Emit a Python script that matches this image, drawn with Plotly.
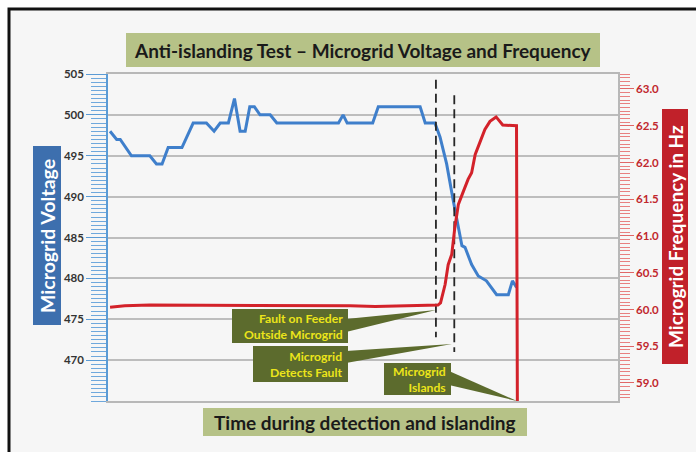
import plotly.graph_objects as go

# ---------------- data ----------------
blue_t = [0.4, 1.7, 2.4, 4.6, 8.2, 9.5, 10.6, 11.8, 14.5, 16.7, 19.3, 20.8, 22.0, 23.6,
          24.8, 25.9, 26.9, 27.8, 28.7, 29.8, 31.8, 33.1, 45.2, 46.1, 46.9, 51.9, 53.0,
          61.2, 62.2, 64.1, 65.1, 66.4, 67.7, 69.0, 69.4, 70.0, 71.3, 72.6, 73.6, 74.2,
          76.2, 78.5, 79.3, 80.1]
blue_v = [498, 497, 497, 495, 495, 494, 494, 496, 496, 499, 499, 498, 499, 499,
          502, 498, 498, 501, 501, 500, 500, 499, 499, 500, 499, 499, 501,
          501, 499, 499, 497.3, 494, 489.5, 485.4, 484, 483.8, 481.7, 480.3, 479.9, 479.7,
          478, 478, 479.7, 478.9]

red_t = [0.4, 3.3, 8.2, 13.1, 18.0, 22.9, 27.8, 32.7, 37.6, 42.5, 47.5, 52.4, 57.3,
         62.2, 64.7, 65.2, 66.1, 66.7, 67.4, 68.0, 68.7, 69.7, 70.6, 71.3, 72.0, 72.9,
         73.9, 74.9, 76.1, 77.4, 79.1, 80.1, 80.3]
red_f = [60.03, 60.05, 60.06, 60.06, 60.05, 60.06, 60.05, 60.06, 60.05, 60.05, 60.05,
         60.04, 60.05, 60.05, 60.06, 60.09, 60.34, 60.61, 60.75, 61.11, 61.43, 61.61,
         61.77, 61.86, 62.11, 62.27, 62.45, 62.56, 62.62, 62.51, 62.51, 62.50, 58.0]

event_t = [64.3, 67.9]
event_top = [504.3, 502.4]
event_bottom = [472.8, 471.0]

volt_ticks = [470, 475, 480, 485, 490, 495, 500, 505]
freq_ticks = [59.0, 59.5, 60.0, 60.5, 61.0, 61.5, 62.0, 62.5, 63.0]

title_text = "Anti-islanding Test – Microgrid Voltage and Frequency"
x_title = "Time during detection and islanding"
y1_title = "Microgrid Voltage"
y2_title = "Microgrid Frequency in Hz"
callouts = ["Fault on Feeder<br>Outside Microgrid", "Microgrid<br>Detects Fault", "Microgrid<br>Islands"]

# ---------------- layout helpers ----------------
W, H = 696, 452
L, R, T, B = 108, 78, 74, 51
PW, PH = W - L - R, H - T - B


def px(x):
    return (x - L) / PW


def py(y):
    return (H - B - y) / PH


FONT = "Lato, 'Open Sans', sans-serif"
BLUE = "#3f7fcb"
RED = "#d3222a"
OLIVE = "#5c6b2d"
KHAKI = "#b6c287"
YEL = "#ece51a"

fig = go.Figure()

fig.add_trace(go.Scatter(x=blue_t, y=blue_v, mode="lines",
                         line=dict(color=BLUE, width=3), yaxis="y", showlegend=False))
fig.add_trace(go.Scatter(x=red_t, y=red_f, mode="lines",
                         line=dict(color=RED, width=3), yaxis="y2", showlegend=False))
for t, a, b in zip(event_t, event_top, event_bottom):
    fig.add_trace(go.Scatter(x=[t, t], y=[a, b], mode="lines",
                             line=dict(color="#262626", width=1.8, dash="9px,5px"),
                             yaxis="y", showlegend=False))

shapes = []
# outer frame background and border
shapes.append(dict(type="rect", xref="paper", yref="paper", x0=px(9), x1=px(720),
                   y0=py(9), y1=py(470), fillcolor="#f6f6f6",
                   line=dict(color="#111", width=3), layer="below"))


def box(x0, y0, x1, y1, color):
    shapes.append(dict(type="rect", xref="paper", yref="paper", x0=px(x0), x1=px(x1),
                       y0=py(y1), y1=py(y0), fillcolor=color, line=dict(width=0), layer="above"))


def wedge(bx, by0, by1, tx, ty):
    path = "M {} {} L {} {} L {} {} Z".format(px(bx), py(by0), px(bx), py(by1), px(tx), py(ty))
    shapes.append(dict(type="path", xref="paper", yref="paper", path=path,
                       fillcolor=OLIVE, line=dict(width=0), layer="above"))


box(126, 33, 600, 67, KHAKI)
box(203, 408, 527, 436, KHAKI)
box(33, 146, 61, 325, "#3d6fae")
box(662, 109, 688, 364, "#c1212a")

wedge(346, 319, 332, 436, 310)
wedge(346, 351, 363, 452, 344)
wedge(449, 371, 385, 517, 401)
box(232, 309, 348, 343, OLIVE)
box(253, 346, 348, 382, OLIVE)
box(384, 363, 451, 395, OLIVE)

ann = []


def text(x, y, s, size, color, xanchor="center", angle=0, align="center"):
    ann.append(dict(x=px(x), y=py(y), xref="paper", yref="paper", text=s, showarrow=False,
                    xanchor=xanchor, yanchor="middle", textangle=angle, align=align,
                    font=dict(family=FONT, size=size, color=color, weight="bold")))


text(363, 50, title_text, 19, "#1a1a1a")
text(365, 422, x_title, 19, "#1a1a1a")
text(47, 236, y1_title, 19.5, "white", angle=-90)
text(675, 237, y2_title, 19, "white", angle=-90)
text(345, 326, callouts[0], 12.2, YEL, xanchor="right", align="right")
text(345, 364, callouts[1], 12.2, YEL, xanchor="right", align="right")
text(448, 379, callouts[2], 12.2, YEL, xanchor="right", align="right")

fig.update_layout(
    width=W, height=H, autosize=False,
    margin=dict(l=L, r=R, t=T, b=B, pad=0),
    paper_bgcolor="white", plot_bgcolor="white",
    shapes=shapes, annotations=ann,
    xaxis=dict(range=[0, 100], showticklabels=False, ticks="", showgrid=False,
               zeroline=False, showline=True, mirror=True, linecolor="#b8b8b8", linewidth=1.5),
    yaxis=dict(range=[465, 505], tickvals=volt_ticks, showgrid=True, gridcolor="#bdbdbd",
               gridwidth=1.5, zeroline=False, showline=True, linecolor="#5b9bd5", linewidth=1.5,
               ticks="outside", ticklen=20, tickcolor="#5b9bd5", tickwidth=1.2,
               minor=dict(dtick=0.5, ticks="outside", ticklen=15, tickcolor="#6fa8dc", tickwidth=1),
               tickfont=dict(family=FONT, size=11.5, color="#333", weight="bold")),
    yaxis2=dict(range=[58.755, 63.204], overlaying="y", side="right", tickvals=freq_ticks,
                tickformat=".1f", showgrid=False, zeroline=False, showline=True,
                linecolor="#b8b8b8", linewidth=1.5,
                ticks="outside", ticklen=14, tickcolor="#e06666", tickwidth=1.2,
                minor=dict(dtick=0.05, ticks="outside", ticklen=10, tickcolor="#e88080", tickwidth=1),
                tickfont=dict(family=FONT, size=11.5, color="#c1272d", weight="bold")),
)

fig.write_html("out.html", config={"displayModeBar": False},
               post_script="document.body.style.margin='0';")
